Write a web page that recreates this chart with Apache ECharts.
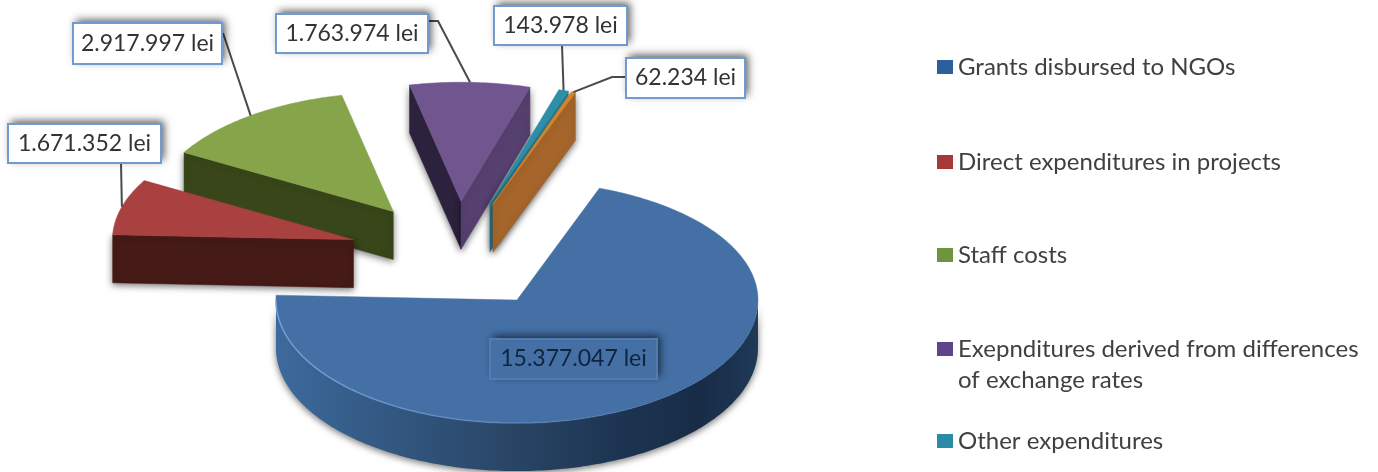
<!DOCTYPE html>
<html>
<head>
<meta charset="utf-8">
<style>
  html, body { margin: 0; padding: 0; background: #fff; }
  #chart { width: 1378px; height: 472px; filter: blur(0.6px); }
</style>
<script src="https://cdn.jsdelivr.net/npm/echarts@6/dist/echarts.min.js"></script>
</head>
<body>
<div id="chart"></div>
<script>
// data
const categories = [
  'Grants disbursed to NGOs',
  'Direct expenditures in projects',
  'Staff costs',
  'Exepnditures derived from differences of exchange rates',
  'Other expenditures',
  'Not in the visible legend'
]
const values = [15377047, 1671352, 2917997, 1763974, 143978, 62234]

// pie geometry and styles
const pie = { cx: 457, cy: 254.4, rx: 241, ryUp: 119, ryDown: 123, depth: 48, explode: 0.447, startAngle: 70 }
const fontFamily = 'Lato, "Noto Sans", sans-serif'
const topColors = ['#4470a6', '#a8413f', '#86a44a', '#71558f', '#2f8fa9', '#d9822b']
const highFace = ['#3a5f8c', '#451a17', '#384619', '#2e233f', '#2a7f95', '#a5652b']
const lowFace = ['#3a5f8c', '#451a17', '#384619', '#56406f', '#2a7f95', '#a5652b']
const legendColors = ['#2f5f9b', '#a33a38', '#6f9440', '#5e4588', '#2a8ba6']
const drawOrder = [2, 1, 3, 4, 5, 0] // back to front
const labelBoxes = [
  { x: 490, y: 339, w: 167, h: 40 },
  { x: 8, y: 124, w: 153, h: 39, from: [121, 163] },
  { x: 73, y: 23, w: 149, h: 41, from: [223, 33] },
  { x: 276, y: 14, w: 152, h: 39, from: [428, 21], elbow: [438, 21] },
  { x: 494, y: 6, w: 133, h: 39, from: [562, 45] },
  { x: 626, y: 58, w: 119, h: 40, from: [626, 77], elbow: [612, 77] }
]
const legendTops = [51.5, 146.5, 239.5, 302.5, 425.5]

const total = values.reduce((a, b) => a + b, 0)
const rad = (d) => (d * Math.PI) / 180
const fmt = (v) => String(v).replace(/\B(?=(\d{3})+$)/g, '.') + ' lei'

// angles run clockwise from startAngle, same as the value order
const sweeps = values.map((v) => (v / total) * 360)
const sliceAngles = sweeps.map((s, i) => {
  const hi = pie.startAngle - sweeps.slice(0, i).reduce((a, b) => a + b, 0)
  return { hi: hi, lo: hi - s, mid: hi - s / 2 }
})

const ry = (sin) => (sin > 0 ? pie.ryUp : pie.ryDown)
const apexOf = (i) => {
  const m = rad(sliceAngles[i].mid)
  return [
    pie.cx + pie.rx * pie.explode * Math.cos(m),
    pie.cy - ry(Math.sin(m)) * pie.explode * Math.sin(m)
  ]
}
const rimPoint = (apex, deg) => {
  const s = Math.sin(rad(deg))
  return [apex[0] + pie.rx * Math.cos(rad(deg)), apex[1] - ry(s) * s]
}
const arcPoints = (apex, hi, lo) => {
  const pts = []
  for (let d = hi; d > lo; d -= 1) pts.push(rimPoint(apex, d))
  pts.push(rimPoint(apex, lo))
  return pts
}
const down = (p) => [p[0], p[1] + pie.depth]

const shadow = { shadowBlur: 7, shadowColor: 'rgba(0,0,0,0.55)', shadowOffsetY: 2 }

const radialFace = (apex, deg, color) => ({
  type: 'polygon',
  shape: { points: [apex, rimPoint(apex, deg), down(rimPoint(apex, deg)), down(apex)] },
  style: { fill: color, stroke: color, lineWidth: 0.5, ...shadow }
})

const renderSlice = (i) => () => {
  const a = sliceAngles[i]
  const apex = apexOf(i)
  const children = []
  // only faces turned towards the viewer
  if (Math.sin(rad(a.hi + 90)) < 0) children.push(radialFace(apex, a.hi, highFace[i]))
  if (Math.sin(rad(a.lo - 90)) < 0) children.push(radialFace(apex, a.lo, lowFace[i]))
  // front part of the rim, angles between -180 and 0
  const frontHi = Math.min(a.hi, 0)
  const frontLo = Math.max(a.lo, -180)
  if (frontHi > frontLo) {
    const rim = arcPoints(apex, frontHi, frontLo)
    children.push({
      type: 'polygon',
      shape: { points: rim.concat(rim.map(down).reverse()) },
      style: {
        fill: new echarts.graphic.LinearGradient(0, 0, 1, 0, [
          { offset: 0, color: '#3d6a9d' },
          { offset: 0.2, color: '#345a85' },
          { offset: 0.47, color: '#2a4768' },
          { offset: 0.7, color: '#1d3552' },
          { offset: 0.88, color: '#182c47' },
          { offset: 1, color: '#1f3957' }
        ]),
        ...shadow
      }
    })
  }
  const arc = arcPoints(apex, a.hi, a.lo)
  children.push({
    type: 'polygon',
    shape: { points: [apex].concat(arc) },
    style: { fill: topColors[i], stroke: topColors[i], lineWidth: 0.5 }
  })
  if (frontHi > frontLo) {
    // light edge along the lower left of the top face
    children.push({
      type: 'polyline',
      shape: { points: arcPoints(apex, -50, frontLo) },
      style: {
        fill: 'none',
        lineWidth: 1.5,
        stroke: new echarts.graphic.LinearGradient(0, 0, 1, 0, [
          { offset: 0, color: 'rgba(120,165,220,0.9)' },
          { offset: 1, color: 'rgba(120,165,220,0)' }
        ])
      }
    })
  }
  return { type: 'group', children: children }
}

const renderLabel = (params) => {
  const i = params.dataIndex
  const box = labelBoxes[i]
  const inside = i === 0
  const rectShape = { x: box.x, y: box.y, width: box.w, height: box.h }
  const children = []
  if (box.from) {
    const end = rimPoint(apexOf(i), sliceAngles[i].mid)
    const pts = box.elbow ? [box.from, box.elbow, end] : [box.from, end]
    children.push({
      type: 'polyline',
      shape: { points: pts },
      style: { fill: 'none', stroke: '#4a4a4a', lineWidth: 2 }
    })
  }
  // shadow drawn apart, a stroked rect would throw it inside the box too
  children.push({
    type: 'rect',
    shape: rectShape,
    style: {
      fill: inside ? topColors[0] : '#fff',
      shadowBlur: 8,
      shadowColor: 'rgba(0,0,0,0.65)',
      shadowOffsetX: 3,
      shadowOffsetY: -3
    }
  })
  children.push({
    type: 'rect',
    shape: rectShape,
    style: {
      fill: inside ? topColors[0] : '#fff',
      stroke: inside ? '#4f7cb3' : '#6f9bd0',
      lineWidth: 2
    }
  })
  children.push({
    type: 'text',
    style: {
      x: box.x + box.w / 2,
      y: box.y + box.h / 2,
      text: fmt(values[i]),
      align: 'center',
      verticalAlign: 'middle',
      font: '23px ' + fontFamily,
      fill: inside ? '#10243d' : '#333'
    }
  })
  return { type: 'group', children: children }
}

const chart = echarts.init(document.getElementById('chart'), null, { renderer: 'canvas' })

const sliceSeries = drawOrder.map((i) => ({
  type: 'custom',
  name: categories[i],
  coordinateSystem: 'none',
  silent: true,
  animation: false,
  itemStyle: { color: i < legendColors.length ? legendColors[i] : topColors[i] },
  renderItem: renderSlice(i),
  data: [[values[i]]]
}))

chart.setOption({
  backgroundColor: '#fff',
  animation: false,
  legend: legendTops.map((top, i) => ({
    orient: 'vertical',
    left: 937,
    top: top,
    padding: 0,
    icon: 'rect',
    itemWidth: 16,
    itemHeight: 14,
    selectedMode: false,
    data: [{ name: categories[i], itemStyle: { color: legendColors[i] } }],
    // blank first line keeps the marker next to the first text line
    formatter: (name) =>
      name.length > 40 ? ' \nExepnditures derived from differences\nof exchange rates' : name,
    textStyle: { fontFamily: fontFamily, fontSize: 24, lineHeight: 31, color: '#404040', padding: 0 }
  })),
  series: sliceSeries.concat([{
    type: 'custom',
    name: 'labels',
    coordinateSystem: 'none',
    silent: true,
    animation: false,
    renderItem: renderLabel,
    data: values.map((v) => [v])
  }])
})
</script>
</body>
</html>
